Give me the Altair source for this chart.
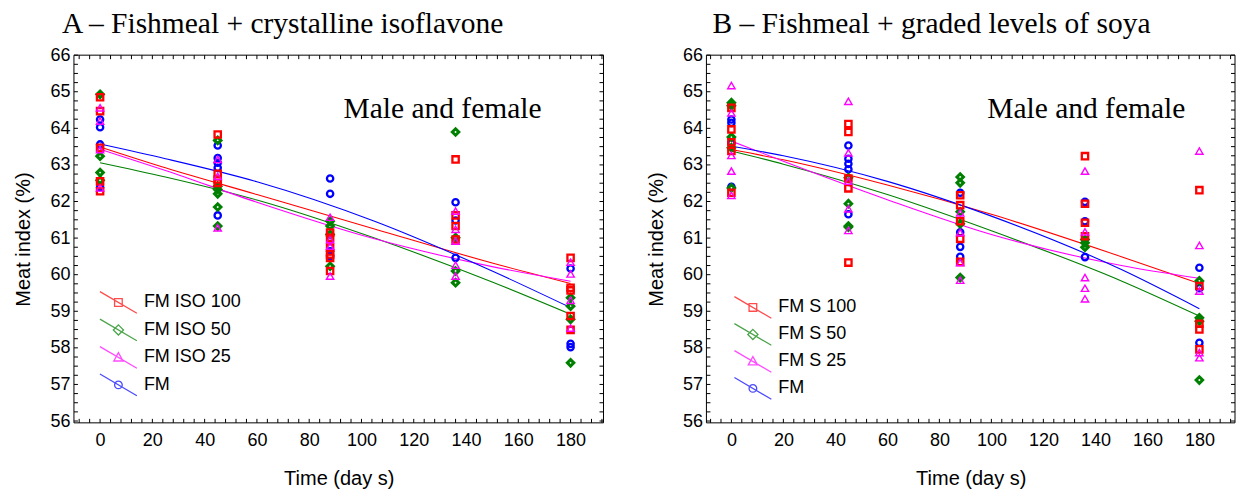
import altair as alt
import pandas as pd

# ---------------- data ----------------
days = [0, 45, 88, 136, 180]

a_groups = ["FM ISO 100", "FM ISO 50", "FM ISO 25", "FM"]
b_groups = ["FM S 100", "FM S 50", "FM S 25", "FM"]

# panel A points (one list per sampling day)
a_iso100 = [[64.85, 64.47, 63.47, 62.55, 62.28], [63.83, 62.76, 62.6, 62.51],
            [61.15, 61.01, 60.74, 60.55, 60.46, 60.1], [63.15, 61.62, 61.33, 60.96],
            [60.46, 59.64, 59.57, 58.87, 58.49]]
a_iso50 = [[64.93, 63.24, 62.79, 62.58], [63.67, 62.42, 62.33, 62.21, 61.85, 61.33],
           [61.46, 61.33, 61.1, 60.23], [63.9, 61.01, 60.1, 59.78],
           [59.37, 59.14, 58.78, 57.59]]
a_iso25 = [[64.56, 64.2, 63.42, 62.37], [63.15, 62.69, 61.28],
           [61.57, 60.96, 60.78, 59.96], [61.74, 61.24, 60.92, 60.26, 59.96],
           [60.34, 60.02, 59.3, 58.54]]
a_fm = [[64.24, 64.03, 63.56, 62.39], [63.53, 63.19, 63.06, 62.92, 61.62],
        [62.63, 62.21, 60.64, 60.51], [61.98, 61.48, 60.46],
        [60.17, 58.11, 58.02]]

# panel B points
b_s100 = [[64.56, 63.97, 63.62, 63.38, 62.24], [64.12, 63.9, 62.63, 62.36, 60.33],
          [62.17, 61.9, 61.46, 60.98, 60.35], [63.24, 61.94, 61.42, 61.05],
          [62.31, 59.69, 58.66, 58.5, 57.96]]
b_s50 = [[64.7, 64.62, 63.76, 63.47, 62.37], [62.65, 61.94, 61.33, 61.3],
         [62.67, 62.51, 61.72, 61.39, 59.92], [60.96, 60.87, 60.75],
         [59.83, 58.82, 58.73, 57.12]]
b_s25 = [[65.17, 64.42, 63.26, 62.83, 62.17], [64.74, 63.33, 62.56, 61.8, 61.21],
         [61.69, 61.15, 60.33, 59.85], [62.83, 61.17, 59.92, 59.63, 59.34],
         [63.38, 60.8, 59.55, 57.87, 57.73]]
b_fm = [[64.24, 64.15, 63.6, 62.4], [63.53, 63.17, 63.03, 62.88, 61.65],
        [62.24, 61.16, 60.76, 60.49], [61.99, 61.46, 60.48],
        [60.19, 59.63, 58.14]]

# fitted curves
a_fit_days = [0, 25, 60, 105, 150, 180]
a_fit_iso100 = [63.49, 62.92, 62.19, 61.25, 60.32, 59.76]
a_fit_iso50 = [63.06, 62.67, 62.04, 61.0, 59.8, 58.92]
a_fit_iso25 = [63.43, 62.85, 61.98, 60.98, 60.22, 59.82]
a_fit_fm = [63.57, 63.17, 62.54, 61.46, 60.1, 59.1]

b_fit_days = [0, 20, 60, 100, 150, 180]
b_fit_s100 = [63.42, 63.14, 62.45, 61.65, 60.49, 59.76]
b_fit_s50 = [63.38, 63.02, 62.19, 61.2, 59.83, 58.87]
b_fit_s25 = [63.65, 63.1, 62.05, 61.1, 60.25, 59.9]
b_fit_fm = [63.51, 63.25, 62.55, 61.6, 60.14, 59.07]

y_labels = [56, 57, 58, 59, 60, 61, 62, 63, 64, 65, 66]
x_labels = [0, 20, 40, 60, 80, 100, 120, 140, 160, 180]
x_minor = list(range(-8, 193, 4))
y_minor = [56 + 0.25 * i for i in range(41)]

# ---------------- styles ----------------
colors = ["#ff0000", "#008000", "#ff00ff", "#0000ff"]
shapes = ["square", "diamond", "triangle-up", "circle"]
sizes = [40, 42, 54, 40]
strokes = [2.3, 3.0, 1.4, 2.3]
draw_order = [3, 1, 0, 2]

LINE = "M-1.45,-0.85L1.45,0.85"
legend_paths = [
    LINE + "M-0.3,-0.3L0.3,-0.3L0.3,0.3L-0.3,0.3Z",
    LINE + "M0,-0.4L0.4,0L0,0.4L-0.4,0Z",
    LINE + "M0,-0.38L0.36,0.28L-0.36,0.28Z",
    LINE + "M-0.3,0A0.3,0.3,0,1,0,0.3,0A0.3,0.3,0,1,0,-0.3,0Z",
]

SANS = "Liberation Sans"
SERIF = "Liberation Serif"
YDOM = [55.95, 66]
H = 368


def points_df(groups, lists):
    rows = []
    for g, per_day in zip(groups, lists):
        for d, vals in zip(days, per_day):
            for v in vals:
                rows.append({"group": g, "day": d, "val": v})
    return pd.DataFrame(rows)


def fit_df(groups, fdays, fits):
    rows = []
    for g, vals in zip(groups, fits):
        for d, v in zip(fdays, vals):
            rows.append({"group": g, "day": d, "val": v})
    return pd.DataFrame(rows)


def panel(groups, plists, fdays, fits, xdom, W, title, title_dx, lx, ly, rowpad, note_xy):
    xs = alt.Scale(domain=xdom, nice=False, zero=False)
    ys = alt.Scale(domain=YDOM, nice=False, zero=False)
    pdf = points_df(groups, plists)
    fdf = fit_df(groups, fdays, fits)

    xa = alt.Axis(values=x_labels, tickCount=10, title="Time (day s)", ticks=False, domain=False,
                  grid=False, labelFont=SANS, labelFontSize=18, labelColor="black",
                  labelPadding=9, labelOverlap=False, titleFont=SANS, titleFontSize=20,
                  titleFontWeight="normal", titleColor="black", titlePadding=19)
    ya = alt.Axis(values=y_labels, tickCount=11, title="Meat index (%)", ticks=False, domain=False,
                  grid=False, labelFont=SANS, labelFontSize=18, labelColor="black",
                  labelPadding=4, labelOverlap=False, titleFont=SANS, titleFontSize=20,
                  titleFontWeight="normal", titleColor="black", titlePadding=16)

    def X(f):
        return alt.X(f, type="quantitative", scale=xs, axis=xa)

    def Y(f):
        return alt.Y(f, type="quantitative", scale=ys, axis=ya)

    layers = []
    # frame
    frame = pd.DataFrame({"x0": [xdom[0]], "x1": [xdom[1]], "y0": [YDOM[0]], "y1": [YDOM[1]]})
    layers.append(alt.Chart(frame).mark_rect(fill="white", stroke="black", strokeWidth=1).encode(
        x=X("x0"), x2="x1:Q", y=Y("y0"), y2="y1:Q"))

    # frame ticks (inward) on four sides
    tx = pd.DataFrame({"t": x_minor})
    ty = pd.DataFrame({"v": y_minor})
    for y0, y1 in [(H, H - 4), (0, 4)]:
        layers.append(alt.Chart(tx).mark_rule(color="black", strokeWidth=1).encode(
            x=X("t"), y=alt.value(y0), y2=alt.value(y1)))
    for x0, x1 in [(0, 4), (W, W - 4)]:
        layers.append(alt.Chart(ty).mark_rule(color="black", strokeWidth=1).encode(
            y=Y("v"), x=alt.value(x0), x2=alt.value(x1)))

    # fitted lines
    for i, g in enumerate(groups):
        layers.append(alt.Chart(fdf[fdf.group == g]).mark_line(
            color=colors[i], strokeWidth=1.1, interpolate="monotone").encode(
            x=X("day"), y=Y("val")))

    # points
    for i in draw_order:
        g = groups[i]
        layers.append(alt.Chart(pdf[pdf.group == g]).mark_point(
            shape=shapes[i], color=colors[i], filled=False, size=sizes[i],
            strokeWidth=strokes[i], opacity=1).encode(x=X("day"), y=Y("val")))

    # legend (empty layer whose scales carry the legend)
    leg = alt.Legend(orient="none", legendX=lx, legendY=ly, title=None,
                     labelFont=SANS, labelFontSize=18, labelColor="black",
                     symbolSize=650, symbolStrokeWidth=1.3, labelOffset=12,
                     rowPadding=rowpad, padding=0, symbolFillColor="transparent")
    layers.append(alt.Chart(pdf).mark_point(filled=False, strokeWidth=1.3).encode(
        x=X("day"), y=Y("val"),
        color=alt.Color("group:N", scale=alt.Scale(domain=groups, range=colors), legend=leg),
        shape=alt.Shape("group:N", scale=alt.Scale(domain=groups, range=legend_paths), legend=leg),
    ).transform_filter("datum.day < -1000"))

    # annotation
    note = pd.DataFrame({"day": [note_xy[0]], "val": [note_xy[1]], "txt": ["Male and female"]})
    layers.append(alt.Chart(note).mark_text(font=SERIF, fontSize=29.5, color="black",
                                            align="center", baseline="middle").encode(
        x=X("day"), y=Y("val"), text="txt:N"))

    return alt.layer(*layers).properties(
        width=W, height=H,
        title=alt.TitleParams(title, font=SERIF, fontSize=29.5, fontWeight="normal",
                              color="black", anchor="start", frame="group", dx=title_dx,
                              offset=7))


pa = panel(a_groups, [a_iso100, a_iso50, a_iso25, a_fm], a_fit_days,
           [a_fit_iso100, a_fit_iso50, a_fit_iso25, a_fit_fm], [-10, 192.6], 530,
           "A \u2013 Fishmeal + crystalline isoflavone", -12, 31, 234, 0.5, (131, 64.52))
pb = panel(b_groups, [b_s100, b_s50, b_s25, b_fm], b_fit_days,
           [b_fit_s100, b_fit_s50, b_fit_s25, b_fit_fm], [-9.6, 193.7], 529,
           "B \u2013 Fishmeal + graded levels of soya", 6, 33, 239, 0, (136.5, 64.52))

chart = alt.hconcat(pa, pb, spacing=41).resolve_scale(
    color="independent", shape="independent").resolve_legend(
    color="independent", shape="independent").properties(
    padding={"left": 5, "top": 0, "right": 0, "bottom": 0}, background="white"
).configure_view(stroke=None)

chart.save("out.html", embed_options={"renderer": "svg", "actions": False})
